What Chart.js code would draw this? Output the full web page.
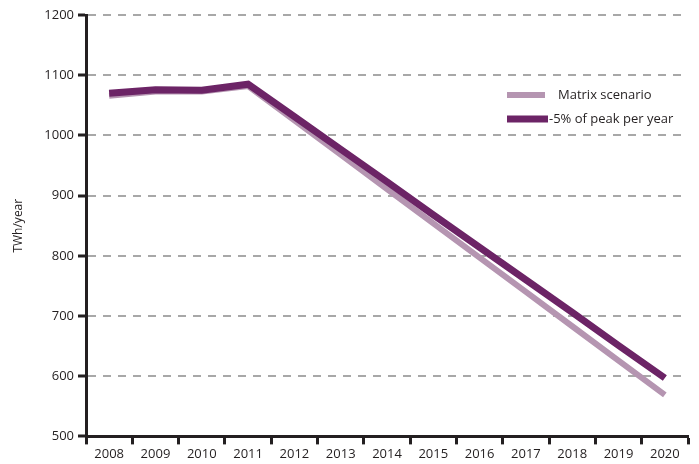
<!DOCTYPE html>
<html>
<head>
<meta charset="utf-8">
<script src="https://cdn.jsdelivr.net/npm/chart.js@4"></script>
<style>
  html, body { margin: 0; padding: 0; background: #fff; }
  #wrap { width: 699px; height: 464px; }
</style>
</head>
<body>
<div id="wrap"><canvas id="myChart" width="699" height="464"></canvas></div>
<script>
const years = ["2008", "2009", "2010", "2011", "2012", "2013", "2014", "2015", "2016", "2017", "2018", "2019", "2020"];
const peakCut = [1070, 1076, 1075, 1085, 1031, 977, 923, 868, 814, 760, 706, 651, 597];
const matrix = [1066, 1073, 1073, 1082, 1025, 968, 911, 854, 797, 740, 683, 626, 569];
const seriesNames = ["Matrix scenario", "-5% of peak per year"];
const yTicks = [500, 600, 700, 800, 900, 1000, 1100, 1200];

const DARK = "#6c2466";
const LIGHT = "#b595b1";
const INK = "#231f20";
const FONT = "'Open Sans', sans-serif";

// legend sits inside the plot, top right
const insideLegend = {
  id: "insideLegend",
  afterDraw(chart) {
    const { ctx, chartArea } = chart;
    const x0 = chartArea.right - 181;
    const rows = [
      { name: seriesNames[0], color: LIGHT, w: 6, len: 38, gap: 13, y: 95 },
      { name: seriesNames[1], color: DARK, w: 7, len: 41, gap: 1, y: 119 },
    ];
    ctx.save();
    ctx.font = "13px " + FONT;
    ctx.fillStyle = INK;
    ctx.textBaseline = "middle";
    rows.forEach((r) => {
      ctx.strokeStyle = r.color;
      ctx.lineWidth = r.w;
      ctx.beginPath();
      ctx.moveTo(x0, r.y);
      ctx.lineTo(x0 + r.len, r.y);
      ctx.stroke();
      ctx.fillText(r.name, x0 + r.len + r.gap, r.y);
    });
    ctx.restore();
  },
};

const ctx = document.getElementById("myChart").getContext("2d");
new Chart(ctx, {
  type: "line",
  data: {
    labels: years,
    datasets: [
      {
        label: seriesNames[1],
        data: peakCut,
        borderColor: DARK,
        borderWidth: 7,
        pointRadius: 0,
        tension: 0,
        fill: false,
      },
      {
        label: seriesNames[0],
        data: matrix,
        borderColor: LIGHT,
        borderWidth: 6,
        pointRadius: 0,
        tension: 0,
        fill: false,
      },
    ],
  },
  options: {
    responsive: false,
    animation: false,
    layout: { padding: { top: 15, right: 11, left: 11, bottom: 0 } },
    plugins: {
      legend: { display: false },
      tooltip: { enabled: false },
    },
    scales: {
      x: {
        offset: true,
        grid: {
          offset: true,
          drawOnChartArea: false,
          drawTicks: true,
          tickLength: 8,
          tickColor: INK,
          tickWidth: 3,
        },
        border: { color: INK, width: 3 },
        ticks: {
          color: INK,
          font: { family: FONT, size: 13 },
          maxRotation: 0,
          padding: 2,
        },
      },
      y: {
        min: 500,
        max: 1200,
        afterBuildTicks: (axis) => {
          axis.ticks = yTicks.map((v) => ({ value: v }));
        },
        afterFit: (axis) => {
          axis.width = 75;
        },
        grid: {
          color: (c) => (c.tick && c.tick.value === 500 ? "rgba(0,0,0,0)" : "#a8a8a8"),
          lineWidth: 2,
          drawTicks: true,
          tickLength: 8,
          tickColor: INK,
          tickWidth: 3,
          tickBorderDash: [],
        },
        border: { color: INK, width: 3, dash: [8, 7] },
        ticks: {
          color: INK,
          font: { family: FONT, size: 13 },
          padding: 4,
          callback: (v) => String(v),
        },
        title: {
          display: true,
          text: "TWh/year",
          color: INK,
          font: { family: FONT, size: 12 },
          padding: { top: 0, bottom: 4 },
        },
      },
    },
  },
  plugins: [insideLegend],
});
</script>
</body>
</html>
